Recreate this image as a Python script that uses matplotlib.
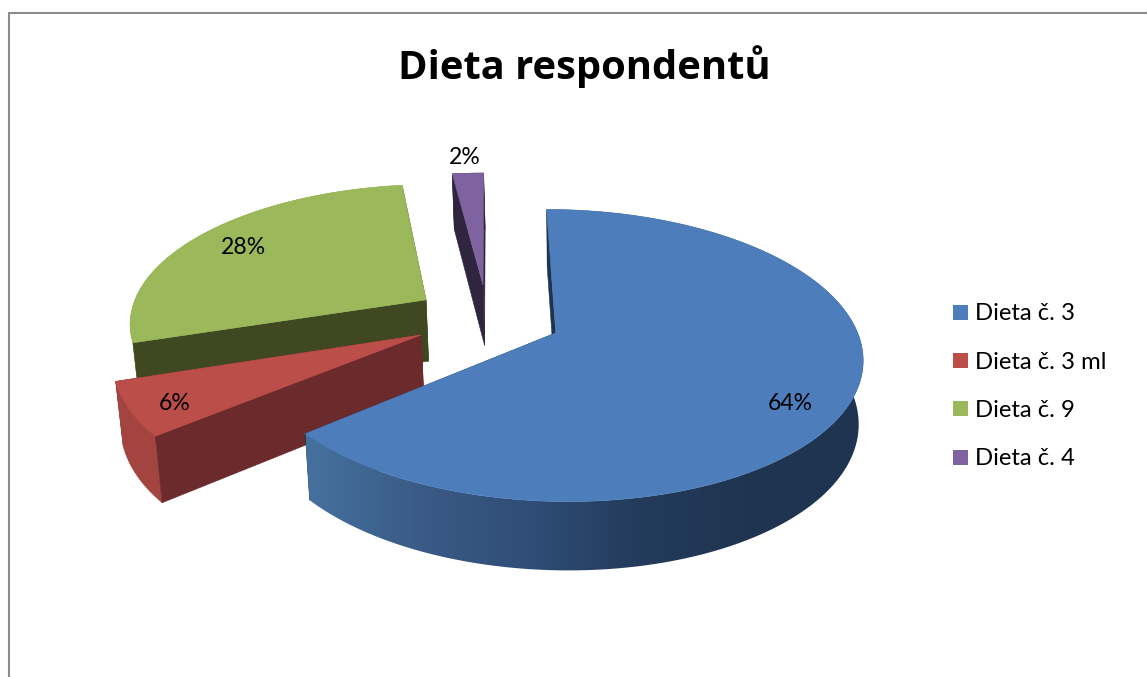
import numpy as np
import matplotlib
matplotlib.use("Agg")
import matplotlib.pyplot as plt
from matplotlib.colors import LinearSegmentedColormap
from matplotlib.patches import Polygon, Rectangle

# ---------------- DATA ----------------

title = "Dieta respondentů"
categories = ["Dieta č. 3", "Dieta č. 3 ml", "Dieta č. 9", "Dieta č. 4"]
percent = [64, 6, 28, 2]

# ---------------- STYLE ----------------

top_colors = ["#4d7ebb", "#bc4e4a", "#9bb95a", "#7f63a1"]
face_colors = ["#1f3450", "#6b2a2b", "#3f4820", "#30253f"]
arc_colors = [None, "#a34441", "#9bb95a", "#30253f"]
blue_side = LinearSegmentedColormap.from_list(
    "blue_side", ["#46719f", "#3a5b86", "#2f4d76", "#233a5a", "#1f3450", "#1f3450"])

plt.rcParams["font.family"] = ["Lato", "DejaVu Sans"]

# projection of the pie plane onto the page, in pixels
CX, CY = 487.5, 318
SCALE_X, SCALE_Y = 297, 138
PERSPECTIVE = 0.152
DEPTH = 62
EXPLODE = 0.25

# painter's order: green and purple at the back, blue in front
index_order = [4, 3, 1, 2]


def project(x, y, z=0.0):
    x, y = np.asarray(x, float), np.asarray(y, float)
    w = 1 + PERSPECTIVE * y
    sx = CX + SCALE_X * x / w * (1 - 0.016 * z) + 1.5 * z
    sy = CY - SCALE_Y * y / w + z * DEPTH / (1 + 0.09 * y)
    return np.column_stack([sx, sy])


def radial_wall(ax, frac, apex, index):
    a = frac * 2 * np.pi
    xs = [apex[0], apex[0] + np.sin(a)]
    ys = [apex[1], apex[1] + np.cos(a)]
    wall = np.vstack([project(xs, ys, 0), project(xs, ys, 1)[::-1]])
    ax.add_patch(Polygon(wall, closed=True, fc=face_colors[index], ec=face_colors[index],
                         lw=0.4, zorder=index_order[index]))


def draw_slice(ax, start, stop, apex, index):
    angles = np.linspace(start, stop, 200) * 2 * np.pi
    ex = apex[0] + np.sin(angles)
    ey = apex[1] + np.cos(angles)
    top = project(ex, ey, 0)
    bottom = project(ex, ey, 1)
    arc = np.vstack([top, bottom[::-1]])

    # far wall, then outer wall, then near wall, the top surface last
    radial_wall(ax, stop, apex, index)
    if index == 0:
        # the big slice has a shaded outer wall
        shade = np.linspace(0, 1, 512).reshape(1, -1)
        clip = Polygon(arc, closed=True, transform=ax.transData, fc="none", ec="none")
        ax.add_patch(clip)
        img = ax.imshow(shade, cmap=blue_side, extent=(306, 870, 600, 200), aspect="auto",
                        zorder=index_order[index], interpolation="bilinear")
        img.set_clip_path(clip)
    else:
        ax.add_patch(Polygon(arc, closed=True, fc=arc_colors[index], ec=arc_colors[index],
                             lw=0.4, zorder=index_order[index]))
    radial_wall(ax, start, apex, index)

    surface = np.vstack([project([apex[0]], [apex[1]], 0), top])
    ax.add_patch(Polygon(surface, closed=True, fc=top_colors[index], ec=top_colors[index],
                         lw=0.4, zorder=index_order[index] + 0.5))


fig = plt.figure(figsize=(11.47, 6.77), dpi=100)
ax = fig.add_axes([0, 0, 1, 1])
ax.axis("off")

# chart frame, cut off at the right and bottom
ax.plot([8.5, 8.5, 1147], [677, 12.5, 12.5], color="#8c8c8c", lw=1.5, zorder=0,
        solid_joinstyle="miter")

ax.text(584.5, 79, title, fontsize=28.7, fontweight="bold", ha="center", va="baseline",
        family=["Open Sans", "DejaVu Sans"])

total = sum(percent)
cum = 0.0
for i, value in enumerate(percent):
    start = cum / total
    stop = (cum + value) / total
    cum += value
    mid = (start + stop) * np.pi
    apex = (EXPLODE * np.sin(mid), EXPLODE * np.cos(mid))
    draw_slice(ax, start, stop, apex, i)

# data labels
label_pos = [(790, 403), (175, 403), (243, 248), (465, 157)]
for value, (lx, ly) in zip(percent, label_pos):
    ax.text(lx, ly, f"{value}%", fontsize=16.6, ha="center", va="center", color="black", zorder=10)

# legend
for i, name in enumerate(categories):
    ly = 312.5 + 48.2 * i
    ax.add_patch(Rectangle((953, ly - 7.5), 15, 15, fc=top_colors[i], ec="none"))
    ax.text(975, ly + 1.5, name, fontsize=17.2, ha="left", va="center", color="black")

ax.set_xlim(0, 1147)
ax.set_ylim(677, 0)

fig.savefig("out.png", dpi=100, facecolor="white")
